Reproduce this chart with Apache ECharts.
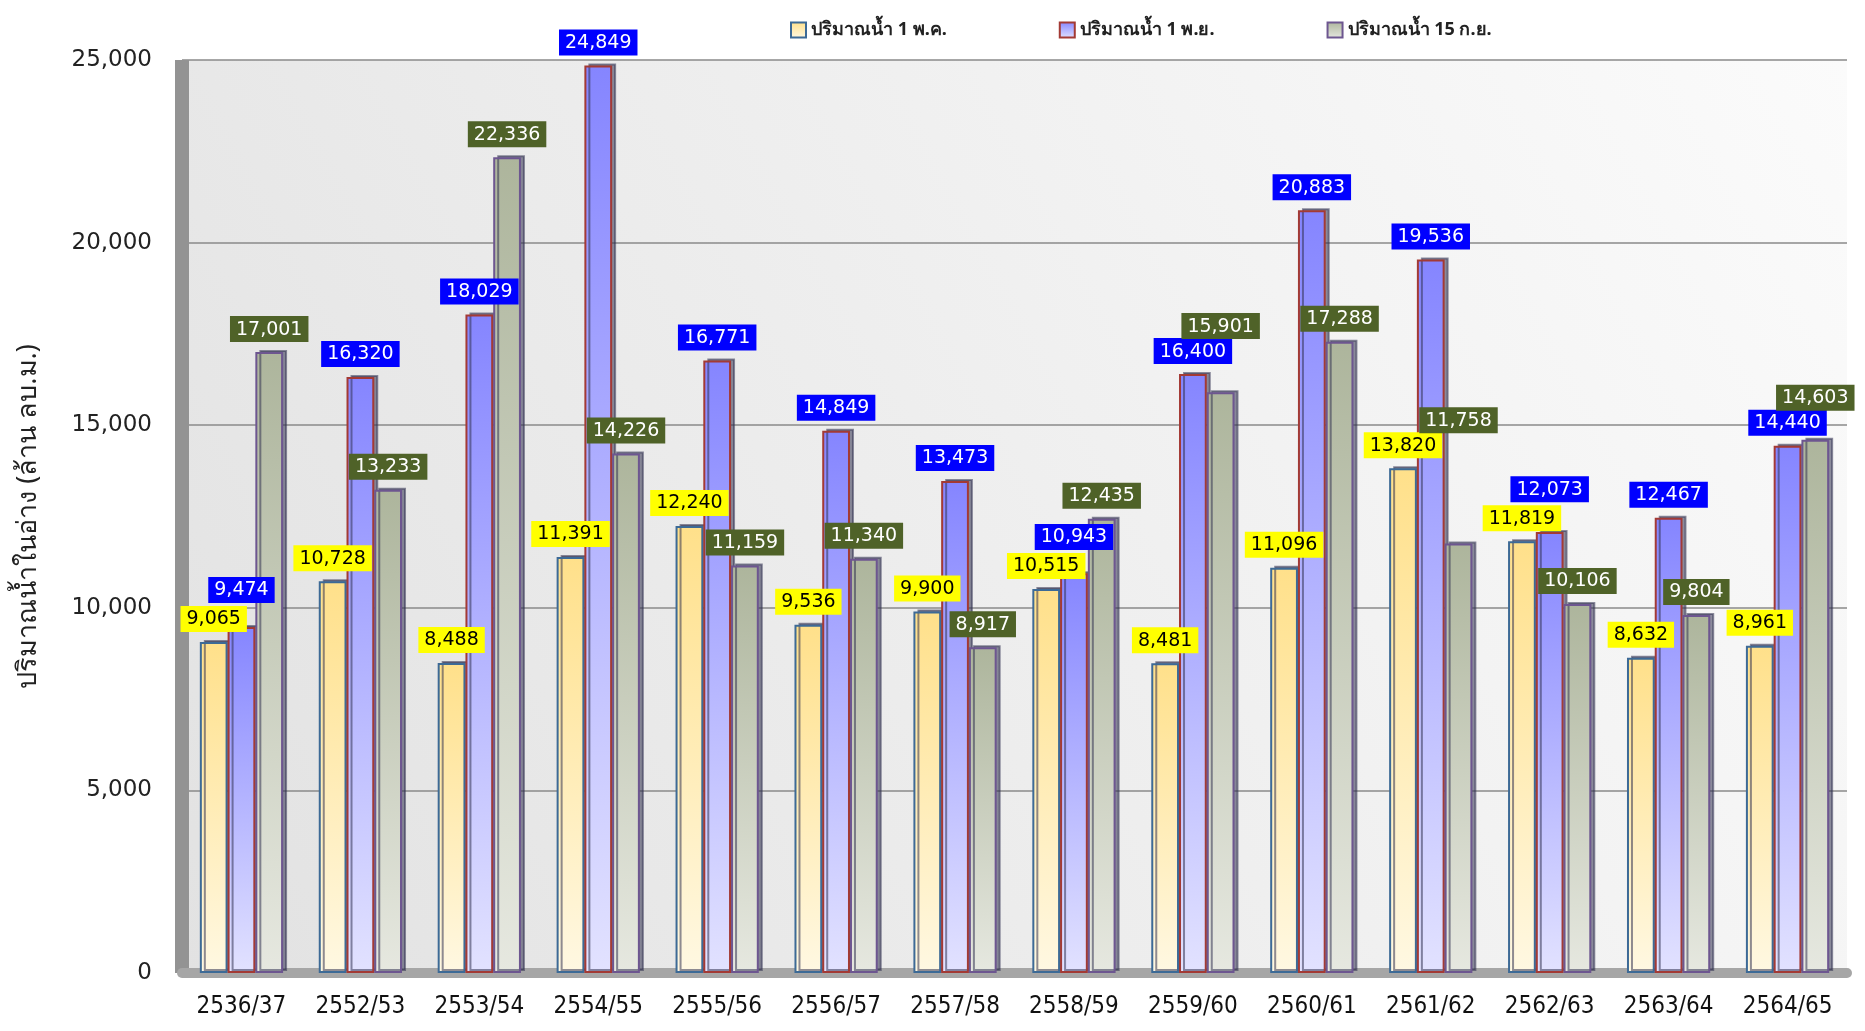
<!DOCTYPE html>
<html>
<head>
<meta charset="utf-8">
<script src="https://cdn.jsdelivr.net/npm/echarts@6/dist/echarts.min.js"></script>
<style>
  html, body { margin: 0; padding: 0; background: #fff; }
  #chart { width: 1865px; height: 1031px; }
</style>
</head>
<body>
<div id="chart"></div>
<script>
const years = ['2536/37', '2552/53', '2553/54', '2554/55', '2555/56', '2556/57', '2557/58',
  '2558/59', '2559/60', '2560/61', '2561/62', '2562/63', '2563/64', '2564/65']
const seriesNames = ['ปริมาณน้ำ 1 พ.ค.', 'ปริมาณน้ำ 1 พ.ย.', 'ปริมาณน้ำ 15 ก.ย.']
const may1 = [9065, 10728, 8488, 11391, 12240, 9536, 9900, 10515, 8481, 11096, 13820, 11819, 8632, 8961]
const nov1 = [9474, 16320, 18029, 24849, 16771, 14849, 13473, 10943, 16400, 20883, 19536, 12073, 12467, 14440]
const sep15 = [17001, 13233, 22336, 14226, 11159, 11340, 8917, 12435, 15901, 17288, 11758, 10106, 9804, 14603]
const yTicks = [0, 5000, 10000, 15000, 20000, 25000]

const chart = echarts.init(document.getElementById('chart'))

// labels already placed, so later ones can step up out of the way
const placed = {}

function avoidOverlap(params) {
  const key = params.seriesIndex + '-' + params.dataIndex
  const r = params.labelRect
  let y = r.y
  let moved = true
  let guard = 0
  while (moved && guard < 20) {
    moved = false
    guard++
    for (const k in placed) {
      if (k === key) continue
      const o = placed[k]
      const hit = r.x < o.x + o.width && r.x + r.width > o.x && y < o.y + o.height && y + r.height > o.y
      if (hit) {
        y = o.y - r.height - 3
        moved = true
      }
    }
  }
  placed[key] = { x: r.x, y, width: r.width, height: r.height }
  return { dy: y - r.y }
}

function grad(top, bottom) {
  return new echarts.graphic.LinearGradient(0, 0, 0, 1, [
    { offset: 0, color: top },
    { offset: 1, color: bottom },
  ])
}

function fmt(v) {
  return v.toLocaleString('en-US')
}

function barSeries(name, data, fillTop, fillBottom, border, labelBg, labelColor, labelOffset) {
  return {
    name,
    type: 'bar',
    data,
    barGap: '0%',
    barCategoryGap: '30%',
    itemStyle: {
      color: grad(fillTop, fillBottom),
      borderColor: border,
      borderWidth: 2,
      shadowColor: 'rgba(50,50,80,0.55)',
      shadowOffsetX: 4,
      shadowOffsetY: -2,
      shadowBlur: 0,
    },
    label: {
      show: true,
      position: 'top',
      distance: 10,
      offset: labelOffset,
      formatter: (p) => fmt(p.value),
      backgroundColor: labelBg,
      color: labelColor,
      fontFamily: 'DejaVu Sans',
      fontSize: 19,
      padding: [4, 6, 3, 6],
    },
    labelLayout: avoidOverlap,
  }
}

chart.setOption({
  backgroundColor: '#ffffff',
  animation: false,
  legend: {
    top: 16,
    left: 785,
    itemGap: 112,
    itemWidth: 15,
    itemHeight: 15,
    icon: 'rect',
    textStyle: { fontFamily: 'Noto Sans', fontWeight: 'bold', fontSize: 18, color: '#222' },
    data: seriesNames,
  },
  grid: {
    left: 182,
    right: 18,
    top: 60,
    bottom: 58,
    show: true,
    borderWidth: 0,
    backgroundColor: new echarts.graphic.LinearGradient(0, 1, 1, 0, [
      { offset: 0, color: '#e2e2e2' },
      { offset: 1, color: '#fbfbfb' },
    ]),
  },
  xAxis: {
    type: 'category',
    data: years,
    axisLine: { show: true, lineStyle: { color: '#a6a6a6', width: 10 } },
    axisTick: { show: false },
    axisLabel: {
      margin: 22,
      fontFamily: 'DejaVu Sans Condensed, DejaVu Sans',
      fontSize: 24,
      color: '#111',
    },
  },
  yAxis: {
    type: 'value',
    min: 0,
    max: 25000,
    interval: 5000,
    name: 'ปริมาณน้ำในอ่าง (ล้าน ลบ.ม.)',
    nameLocation: 'middle',
    nameGap: 140,
    nameTextStyle: { fontFamily: 'Noto Sans', fontSize: 27, color: '#222' },
    axisLine: { show: true, lineStyle: { color: '#939393', width: 14, cap: 'butt' } },
    axisTick: { show: false },
    axisLabel: {
      margin: 30,
      fontFamily: 'DejaVu Sans',
      fontSize: 23,
      color: '#222',
      formatter: (v) => (yTicks.includes(v) ? fmt(v) : ''),
    },
    splitLine: { lineStyle: { color: '#8a8a8a', width: 1.5 } },
  },
  series: [
    barSeries(seriesNames[0], may1, '#ffe08a', '#fff8e2', '#3d6a96', '#ffff00', '#000', [-8, 0]),
    barSeries(seriesNames[1], nov1, '#8585ff', '#e2e2ff', '#a33a35', '#0000ff', '#fff', [0, 0]),
    barSeries(seriesNames[2], sep15, '#adb59c', '#e6e8e0', '#6d5690', '#4f6228', '#fff', [14, -4]),
  ],
})
</script>
</body>
</html>
